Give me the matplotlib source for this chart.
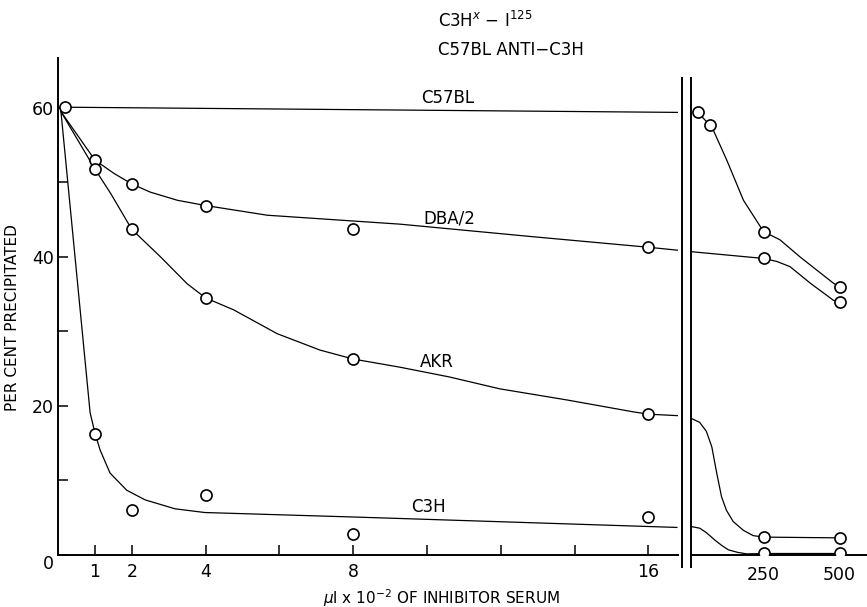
import matplotlib.pyplot as plt

# --- measured points (left panel: ul x 10^-2, right panel: ul) ---
dose_left = [1, 2, 4, 8, 16]
dose_right = [250, 500]

start_x = [0.19]
start_y = [60.1]

dba_pts = [53.0, 49.8, 46.9, 43.8, 41.3]
akr_pts = [51.8, 43.7, 34.5, 26.3, 18.9]
c3h_pts = [16.3, 6.1, 8.1, 2.8, 5.1]

c57_right_x = [34, 73, 250, 500]
c57_right_pts = [59.4, 57.7, 43.4, 35.9]
dba_right_pts = [39.8, 33.9]
akr_right_pts = [2.4, 2.3]
c3h_right_pts = [0.3, 0.3]

# --- hand-drawn curves ---
c57_line_x = [0.1, 16.8]
c57_line_y = [60.1, 59.4]

dba_curve_x = [0.08, 1, 1.52, 2, 2.5, 3.24, 4, 5.67, 9.27, 12.9, 16, 16.8]
dba_curve_y = [59.5, 53.0, 51.2, 49.8, 48.7, 47.6, 46.9, 45.6, 44.4, 42.7, 41.3, 40.9]

akr_curve_x = [0.08, 1, 1.43, 2, 2.78, 3.5, 4, 4.76, 5.94, 7.1, 8, 9.27, 10.6,
               11.97, 13.8, 15.6, 16, 16.8]
akr_curve_y = [59.5, 51.8, 48.5, 43.7, 40.0, 36.4, 34.5, 32.9, 29.7, 27.5, 26.3,
               25.2, 23.9, 22.3, 20.8, 19.2, 18.9, 18.7]

c3h_curve_x = [0.08, 0.87, 1.0, 1.14, 1.41, 1.86, 2.36, 3.17, 3.98, 8.0, 9.27, 16.77]
c3h_curve_y = [59.5, 19.1, 16.4, 14.1, 11.0, 8.7, 7.4, 6.2, 5.7, 5.1, 4.9, 3.7]

c57_rcurve_x = [34, 73, 85, 129, 184, 250, 304, 370, 479, 500]
c57_rcurve_y = [59.4, 57.7, 57.0, 53.0, 47.6, 43.4, 42.3, 40.0, 36.5, 35.9]

dba_rcurve_x = [14, 250, 293, 337, 403, 479, 500]
dba_rcurve_y = [40.7, 39.8, 39.4, 38.7, 36.5, 34.2, 33.9]

akr_rcurve_x = [14, 40, 62, 80, 96, 112, 128, 150, 184, 216, 250, 500]
akr_rcurve_y = [18.3, 17.8, 16.6, 14.5, 11.0, 7.8, 6.0, 4.5, 3.3, 2.6, 2.4, 2.3]

c3h_rcurve_x = [14, 40, 62, 90, 112, 134, 165, 195, 250, 500]
c3h_rcurve_y = [3.8, 3.6, 3.0, 2.0, 1.3, 0.7, 0.35, 0.15, 0.2, 0.2]

LW = 0.9
MK = dict(marker="o", ms=8, mfc="white", mec="black", mew=1.2, ls="none", zorder=5)

fig = plt.figure(figsize=(8.67, 6.07), dpi=100)
ax = fig.add_axes([58 / 867, 52 / 607, 620 / 867, 497 / 607])
ax2 = fig.add_axes([691 / 867, 52 / 607, 176 / 867, 497 / 607])

YMAX = 66.7

# left panel
ax.plot(c57_line_x, c57_line_y, color="black", lw=LW)
ax.plot(dba_curve_x, dba_curve_y, color="black", lw=LW)
ax.plot(akr_curve_x, akr_curve_y, color="black", lw=LW)
ax.plot(c3h_curve_x, c3h_curve_y, color="black", lw=LW)
ax.plot(start_x, start_y, **MK)
ax.plot(dose_left, dba_pts, **MK)
ax.plot(dose_left, akr_pts, **MK)
ax.plot(dose_left, c3h_pts, **MK)

ax.set_xlim(0, 16.8)
ax.set_ylim(0, YMAX)
for s in ["top", "right"]:
    ax.spines[s].set_visible(False)
for s in ["left", "bottom"]:
    ax.spines[s].set_linewidth(1.4)

ax.set_xticks([1, 2, 4, 6, 8, 10, 12, 14, 16])
ax.set_xticklabels(["1", "2", "4", "", "8", "", "", "", "16"])
ax.set_yticks([0, 10, 20, 30, 40, 50, 60])
ax.set_yticklabels(["0", "", "20", "", "40", "", "60"])
ax.tick_params(axis="both", direction="in", length=7, width=1.1, labelsize=12.5)
ax.tick_params(axis="x", pad=6)
ax.tick_params(axis="y", pad=3)
ax.get_yticklabels()[0].set_verticalalignment("top")

ax.set_ylabel("PER CENT PRECIPITATED", fontsize=11)
ax.yaxis.set_label_coords(-0.062, 0.477)
ax.set_xlabel(r"$\mu$l x 10$^{-2}$ OF INHIBITOR SERUM", fontsize=11)
ax.xaxis.set_label_coords(0.619, -0.064)

ax.text(10.57, 61.3, "C57BL", fontsize=12, ha="center", va="center")
ax.text(10.6, 45.2, "DBA/2", fontsize=12, ha="center", va="center")
ax.text(10.27, 25.9, "AKR", fontsize=12, ha="center", va="center")
ax.text(10.05, 6.4, "C3H", fontsize=12, ha="center", va="center")

# right panel
ax2.plot(c57_rcurve_x, c57_rcurve_y, color="black", lw=LW)
ax2.plot(dba_rcurve_x, dba_rcurve_y, color="black", lw=LW)
ax2.plot(akr_rcurve_x, akr_rcurve_y, color="black", lw=LW)
ax2.plot(c3h_rcurve_x, c3h_rcurve_y, color="black", lw=LW)
ax2.plot(c57_right_x, c57_right_pts, **MK)
ax2.plot(dose_right, dba_right_pts, **MK)
ax2.plot(dose_right, akr_right_pts, **MK)
ax2.plot(dose_right, c3h_right_pts, **MK)

ax2.set_xlim(11.5, 590)
ax2.set_ylim(0, YMAX)
for s in ["top", "right", "left"]:
    ax2.spines[s].set_visible(False)
ax2.spines["bottom"].set_linewidth(1.4)
ax2.set_yticks([])
ax2.set_xticks(dose_right)
ax2.tick_params(axis="x", length=0, pad=8, labelsize=12.5)

# axis break: two vertical bars
ax.axvline(16.9, ymin=-0.024, ymax=0.96, color="black", lw=1.4, clip_on=False)
ax2.axvline(11.5, ymin=-0.024, ymax=0.96, color="black", lw=1.4, clip_on=False)

fig.text(438 / 867, 1 - 21 / 607, r"C3H$^{x}$ $-$ I$^{125}$", fontsize=12,
         ha="left", va="center")
fig.text(438 / 867, 1 - 50 / 607, "C57BL ANTI\u2212C3H", fontsize=12,
         ha="left", va="center")

fig.savefig("out.png", dpi=100)
